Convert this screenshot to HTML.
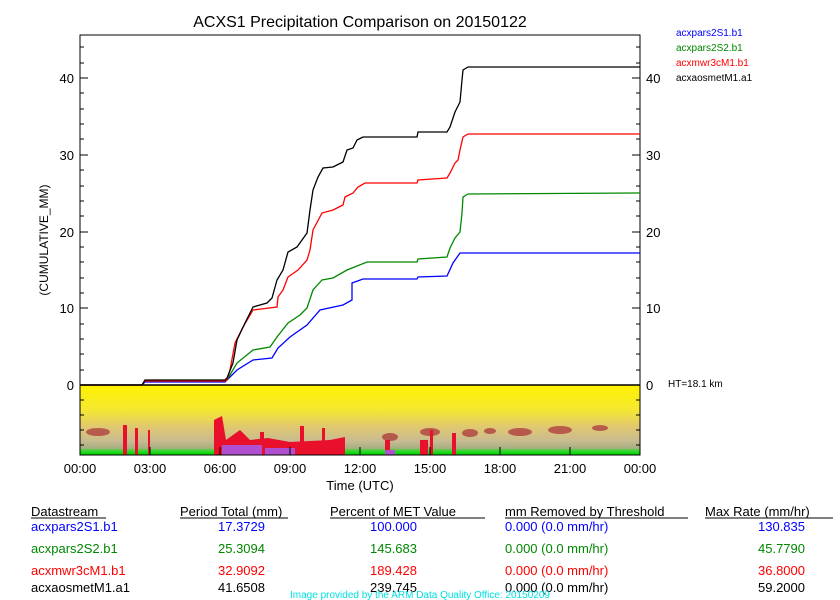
<!DOCTYPE html>
<html><head><meta charset="utf-8"><style>body{margin:0;background:#fff}svg{display:block}text{font-family:"Liberation Sans",sans-serif}</style></head><body>
<svg width="840" height="600" xmlns="http://www.w3.org/2000/svg">
<defs>
<linearGradient id="g" x1="0" y1="0" x2="0" y2="1">
<stop offset="0" stop-color="#fff200"/><stop offset="0.35" stop-color="#f5e830"/><stop offset="0.6" stop-color="#e0c870"/><stop offset="0.8" stop-color="#c8bb90"/><stop offset="0.9" stop-color="#a8b080"/><stop offset="0.95" stop-color="#22dd22"/><stop offset="1" stop-color="#00cc00"/>
</linearGradient>
</defs>
<rect x="80" y="385" width="560" height="70" fill="url(#g)"/>
<g fill="#b04040" opacity="0.8">
<ellipse cx="98" cy="432" rx="12" ry="4"/><ellipse cx="390" cy="437" rx="8" ry="4"/><ellipse cx="430" cy="432" rx="10" ry="4"/><ellipse cx="470" cy="433" rx="8" ry="4"/><ellipse cx="520" cy="432" rx="12" ry="4"/><ellipse cx="490" cy="431" rx="6" ry="3"/><ellipse cx="560" cy="430" rx="12" ry="4"/><ellipse cx="600" cy="428" rx="8" ry="3"/>
</g>
<g fill="#e8102a">
<rect x="123" y="425" width="4" height="30"/><rect x="135" y="428" width="3" height="27"/><rect x="148" y="430" width="2" height="25"/>
<path d="M214 420 L222 416 L226 440 L240 430 L250 440 L268 438 L290 442 L330 440 L345 437 L345 455 L214 455Z"/>
<rect x="260" y="432" width="4" height="23"/><rect x="300" y="426" width="4" height="29"/><rect x="322" y="428" width="3" height="27"/>
<rect x="385" y="440" width="5" height="15"/><rect x="420" y="440" width="8" height="15"/><rect x="430" y="430" width="3" height="25"/><rect x="452" y="433" width="4" height="22"/>
</g>
<g fill="#b050d0"><rect x="222" y="445" width="40" height="10"/><rect x="265" y="448" width="30" height="7"/><rect x="385" y="450" width="10" height="5"/></g>
<rect x="80" y="35" width="560" height="420" fill="none" stroke="#000" stroke-width="1"/>
<line x1="80" y1="385" x2="640" y2="385" stroke="#000" stroke-width="1.5"/>
<g stroke="#000" stroke-width="1">
<path d="M80 78h8M80 155h8M80 232h8M80 308h8M632 78h8M632 155h8M632 232h8M632 308h8"/>
<path d="M80 63h4M80 93h4M80 109h4M80 124h4M80 139h4M80 170h4M80 186h4M80 201h4M80 216h4M80 247h4M80 262h4M80 278h4M80 293h4M80 324h4M80 339h4M80 354h4M80 370h4M80 47h4"/>
<path d="M636 63h4M636 93h4M636 109h4M636 124h4M636 139h4M636 170h4M636 186h4M636 201h4M636 216h4M636 247h4M636 262h4M636 278h4M636 293h4M636 324h4M636 339h4M636 354h4M636 370h4M636 47h4"/>
<path d="M80 400h4M80 415h4M80 430h4M80 445h4M636 400h4M636 415h4M636 430h4M636 445h4"/>
<path d="M150 455v-8M220 455v-8M290 455v-8M360 455v-8M430 455v-8M500 455v-8M570 455v-8"/>
</g>
<g fill="none" stroke-width="1.3">
<polyline stroke="#0000ff" points="80,385 142,385 145,382 225,382 227,380 237,370 253,360 272,358 278,348 290,337 307,325 320,310 343,305 352,300 352,283 363,279 417,279 418,277 447,276 453,263 460,253 640,253"/>
<polyline stroke="#008800" points="80,385 142,385 145,381 225,381 227,380 237,363 253,350 270,347 277,337 288,323 300,315 307,308 313,290 322,280 333,278 347,270 367,262 417,262 418,259 447,257 450,248 455,238 460,232 462,213 463,197 468,194 640,193"/>
<polyline stroke="#ff0000" points="80,385 142,385 145,381 225,381 227,380 230,370 235,343 243,327 253,310 277,307 278,297 283,290 288,277 298,270 307,260 310,250 313,230 322,213 333,210 343,205 345,197 353,193 358,187 365,183 417,183 418,180 447,178 450,173 455,163 458,160 460,150 463,137 468,134 640,134"/>
<polyline stroke="#000" points="80,385 142,385 145,380 225,380 227,378 233,363 237,340 245,323 253,307 267,303 272,298 277,280 283,270 288,252 297,247 307,233 310,210 313,190 318,177 323,168 333,167 343,162 347,150 353,148 357,140 363,137 417,137 418,132 447,132 450,127 455,112 460,102 462,80 463,70 468,67 640,67"/>
</g>
<g font-size="13" fill="#000">
<text x="360" y="27" text-anchor="middle" font-size="16">ACXS1 Precipitation Comparison on 20150122</text>
<text x="74" y="83" text-anchor="end">40</text><text x="74" y="160" text-anchor="end">30</text><text x="74" y="237" text-anchor="end">20</text><text x="74" y="313" text-anchor="end">10</text><text x="74" y="390" text-anchor="end">0</text>
<text x="646" y="83">40</text><text x="646" y="160">30</text><text x="646" y="237">20</text><text x="646" y="313">10</text><text x="646" y="390">0</text>
<text x="668" y="387" font-size="10">HT=18.1 km</text>
<text transform="translate(48,240) rotate(-90)" text-anchor="middle" font-size="12">(CUMULATIVE_MM)</text>
<g text-anchor="middle"><text x="80" y="473">00:00</text><text x="150" y="473">03:00</text><text x="220" y="473">06:00</text><text x="290" y="473">09:00</text><text x="360" y="473">12:00</text><text x="430" y="473">15:00</text><text x="500" y="473">18:00</text><text x="570" y="473">21:00</text><text x="640" y="473">00:00</text></g>
<text x="360" y="490" text-anchor="middle">Time (UTC)</text>
</g>
<g font-size="10">
<text x="676" y="36" fill="#0000ff">acxpars2S1.b1</text><text x="676" y="51" fill="#008800">acxpars2S2.b1</text><text x="676" y="66" fill="#ff0000">acxmwr3cM1.b1</text><text x="676" y="81" fill="#000">acxaosmetM1.a1</text>
</g>
<g font-size="13">
<g fill="#000"><text x="31" y="516">Datastream</text><text x="180" y="516">Period Total (mm)</text><text x="330" y="516">Percent of MET Value</text><text x="505" y="516">mm Removed by Threshold</text><text x="705" y="516">Max Rate (mm/hr)</text></g>
<path d="M31 518h75M180 518h108M330 518h155M505 518h183M705 518h128" stroke="#000"/>
<g fill="#0000ff"><text x="31" y="531">acxpars2S1.b1</text><text x="218" y="531">17.3729</text><text x="370" y="531">100.000</text><text x="505" y="531">0.000 (0.0 mm/hr)</text><text x="758" y="531">130.835</text></g>
<g fill="#008800"><text x="31" y="553">acxpars2S2.b1</text><text x="218" y="553">25.3094</text><text x="370" y="553">145.683</text><text x="505" y="553">0.000 (0.0 mm/hr)</text><text x="758" y="553">45.7790</text></g>
<g fill="#ff0000"><text x="31" y="575">acxmwr3cM1.b1</text><text x="218" y="575">32.9092</text><text x="370" y="575">189.428</text><text x="505" y="575">0.000 (0.0 mm/hr)</text><text x="758" y="575">36.8000</text></g>
<g fill="#000"><text x="31" y="592">acxaosmetM1.a1</text><text x="218" y="592">41.6508</text><text x="370" y="592">239.745</text><text x="505" y="592">0.000 (0.0 mm/hr)</text><text x="758" y="592">59.2000</text></g>
<text x="420" y="598" text-anchor="middle" fill="#00e0e0" font-size="10">Image provided by the ARM Data Quality Office: 20150209</text>
</g>
</svg>
</body></html>
